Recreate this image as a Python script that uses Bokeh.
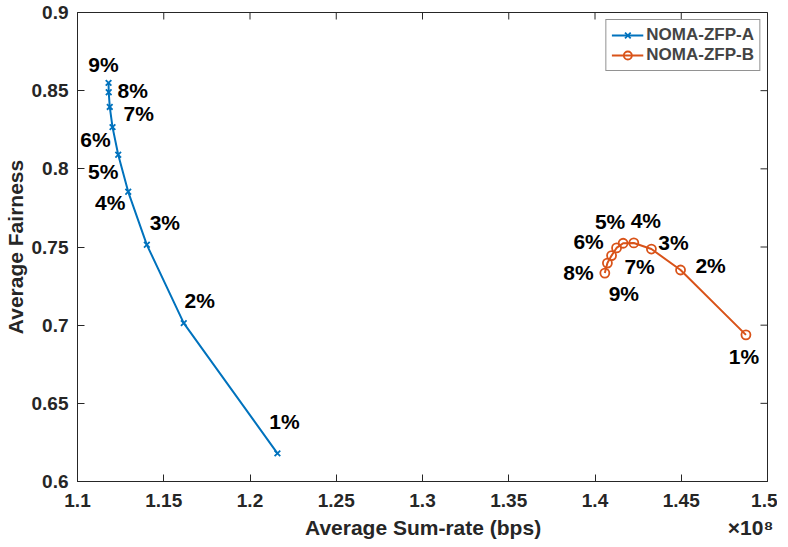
import math
from bokeh.plotting import figure
from bokeh.models import ColumnDataSource, FixedTicker, Range1d, Legend, LegendItem
from bokeh.embed import file_html
from bokeh.resources import INLINE
from bokeh.core.properties import value

# ---------------- data ----------------
percent_labels = ["1%", "2%", "3%", "4%", "5%", "6%", "7%", "8%", "9%"]
a_rate = [1.2159, 1.1616, 1.1402, 1.1294, 1.1236, 1.1203, 1.1187, 1.1181, 1.1180]  # x 1e8 bps
a_fair = [0.618, 0.7013, 0.7514, 0.7853, 0.809, 0.8267, 0.8396, 0.849, 0.855]
b_rate = [1.4875, 1.4496, 1.4327, 1.4225, 1.4163, 1.4125, 1.4096, 1.4072, 1.4057]
b_fair = [0.6938, 0.7353, 0.7487, 0.7526, 0.7524, 0.7494, 0.7445, 0.7397, 0.7333]
x_ticks = [1.1, 1.15, 1.2, 1.25, 1.3, 1.35, 1.4, 1.45, 1.5]
y_ticks = [0.6, 0.65, 0.7, 0.75, 0.8, 0.85, 0.9]
series_names = ["NOMA-ZFP-A", "NOMA-ZFP-B"]
x_title = "Average Sum-rate (bps)"
x_exponent = "×10⁸"
y_title = "Average Fairness"

# label placement offsets (screen pixels)
a_dx = [7, 16, 18, -18, -15, -17, 29, 24, -5]
a_dy = [-32, -23, -22, 11, 17, 12, 7, -2, -18]
b_dx = [-2, 30, 22, 12, -13, -28, 28, -29, 19]
b_dy = [22, -4, -7, -22, -22, -6, 11, 9, 20]

FONT = "Liberation Sans"
BLUE = "#0072BD"
ORANGE = "#D95319"
AX = "#262626"
NBSP = "\u00a0"

X0, X1 = x_ticks[0], x_ticks[-1]
Y0, Y1 = y_ticks[0], y_ticks[-1]

p = figure(frame_width=690, frame_height=469, output_backend="svg", toolbar_location=None,
           x_range=Range1d(X0, X1), y_range=Range1d(Y0, Y1),
           min_border_left=74, min_border_top=12, min_border_right=10, min_border_bottom=56)
p.background_fill_color = "white"
p.border_fill_color = "white"
p.outline_line_color = AX
p.outline_line_width = 1
p.grid.visible = False

def style_axis(ax):
    ax.axis_line_color = AX
    ax.major_tick_line_color = AX
    ax.major_tick_in = 7
    ax.major_tick_out = 0
    ax.minor_tick_line_color = None
    ax.major_label_text_font = FONT
    ax.major_label_text_font_style = "bold"
    ax.major_label_text_font_size = "19px"
    ax.major_label_text_color = AX
    ax.axis_label_text_font = FONT
    ax.axis_label_text_font_style = "bold"
    ax.axis_label_text_font_size = "21px"
    ax.axis_label_text_color = AX

xa = p.xaxis[0]
ya = p.yaxis[0]
xa.ticker = FixedTicker(ticks=x_ticks)
ya.ticker = FixedTicker(ticks=y_ticks)
xa.major_label_overrides = {t: "%g" % t for t in x_ticks}
ya.major_label_overrides = {t: "%g" % t for t in y_ticks}
# the exponent marker sits at the lower-right end of the x-axis title line
xa.axis_label = NBSP * 40 + x_title + NBSP * 32 + x_exponent
ya.axis_label = y_title
style_axis(xa)
style_axis(ya)
xa.major_label_standoff = 12
ya.major_label_standoff = 9
xa.axis_label_standoff = 6
ya.axis_label_standoff = 2

# mirrored tick marks on top and right edges (clipped to frame)
p.scatter(x_ticks, [Y1] * len(x_ticks), marker="dash", size=14, angle=math.pi / 2,
          line_color=AX, line_width=1)
p.scatter([X1] * len(y_ticks), y_ticks, marker="dash", size=14,
          line_color=AX, line_width=1)

src_a = ColumnDataSource(dict(x=a_rate, y=a_fair, t=percent_labels, dx=a_dx, dy=a_dy))
src_b = ColumnDataSource(dict(x=b_rate, y=b_fair, t=percent_labels, dx=b_dx, dy=b_dy))

la = p.line("x", "y", source=src_a, line_color=BLUE, line_width=2)
ma = p.scatter("x", "y", source=src_a, marker="x", size=8, line_color=BLUE, line_width=1.8)
lb = p.line("x", "y", source=src_b, line_color=ORANGE, line_width=2)
mb = p.scatter("x", "y", source=src_b, marker="circle", size=9, line_color=ORANGE,
               fill_color=None, line_width=1.8)

for src in (src_a, src_b):
    p.text("x", "y", text="t", source=src, x_offset="dx", y_offset="dy",
           text_font=value(FONT), text_font_style="bold", text_font_size="21px",
           text_color="black", text_align="center", text_baseline="middle")

legend = Legend(items=[LegendItem(label=series_names[0], renderers=[la, ma]),
                       LegendItem(label=series_names[1], renderers=[lb, mb])],
                location="top_right")
legend.margin = 7
legend.padding = 5
legend.spacing = 0
legend.label_text_font = FONT
legend.label_text_font_style = "bold"
legend.label_text_font_size = "17px"
legend.label_height = 20
legend.glyph_height = 20
legend.glyph_width = 32
legend.label_standoff = 3
legend.border_line_color = AX
legend.border_line_width = 1
legend.background_fill_color = "white"
legend.background_fill_alpha = 1
p.add_layout(legend)

open("out.html", "w").write(file_html(p, INLINE))
